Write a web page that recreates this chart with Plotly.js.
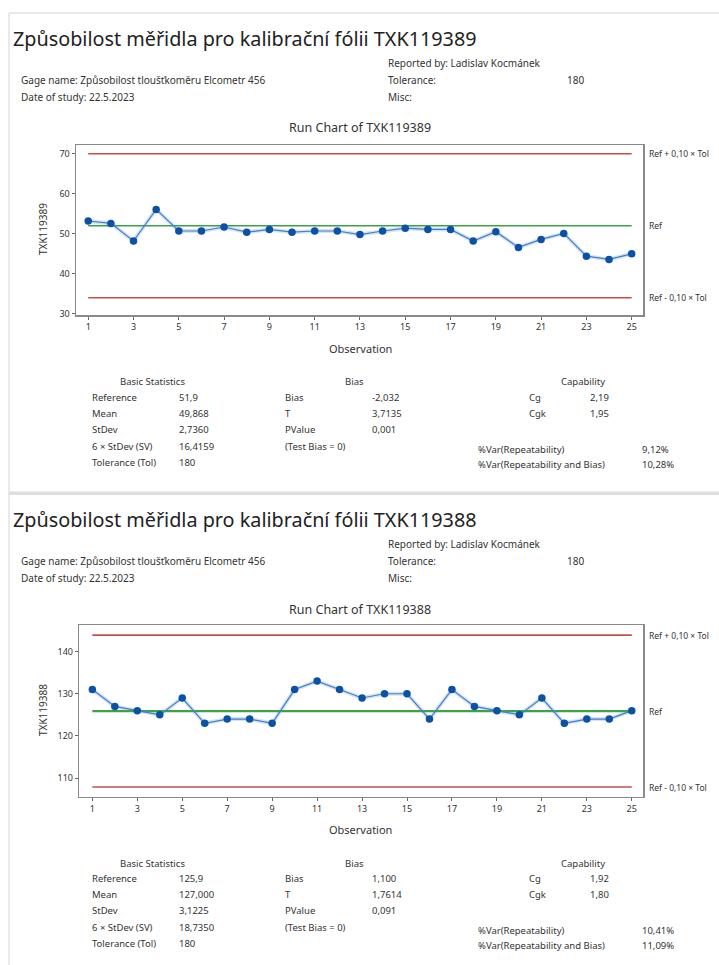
<!DOCTYPE html>
<html>
<head>
<meta charset="utf-8">
<script src="https://cdn.plot.ly/plotly-3.0.1.min.js"></script>
<style>
html,body{margin:0;padding:0;background:#fff;}
#chart{width:719px;height:965px;}
</style>
</head>
<body>
<div id="chart"></div>
<script>
// ---- data ----
const observations = [1,2,3,4,5,6,7,8,9,10,11,12,13,14,15,16,17,18,19,20,21,22,23,24,25];
const valuesA = [53.1,52.5,48.1,56.0,50.6,50.6,51.6,50.3,51.0,50.3,50.6,50.6,49.7,50.6,51.3,51.0,51.0,48.1,50.4,46.5,48.5,50.0,44.3,43.5,44.9];
const valuesB = [131,127,126,125,129,123,124,124,123,131,133,131,129,130,130,124,131,127,126,125,129,123,124,124,126];
const refA = 51.9, refB = 125.9, tolerance = 180, tolFrac = 0.10;
const xTicks = [1,3,5,7,9,11,13,15,17,19,21,23,25];
const yTicksA = [30,40,50,60,70];
const yTicksB = [110,120,130,140];

const titleA = "Způsobilost měřidla pro kalibrační fólii TXK119389";
const titleB = "Způsobilost měřidla pro kalibrační fólii TXK119388";
const runTitleA = "Run Chart of TXK119389";
const runTitleB = "Run Chart of TXK119388";
const yNameA = "TXK119389", yNameB = "TXK119388";

const statsLabels = ["Reference","Mean","StDev","6 × StDev (SV)","Tolerance (Tol)"];
const statsA = ["51,9","49,868","2,7360","16,4159","180"];
const statsB = ["125,9","127,000","3,1225","18,7350","180"];
const biasLabels = ["Bias","T","PValue","(Test Bias = 0)"];
const biasA = ["-2,032","3,7135","0,001",""];
const biasB = ["1,100","1,7614","0,091",""];
const capLabels = ["Cg","Cgk"];
const capA = ["2,19","1,95"];
const capB = ["1,92","1,80"];
const varLabels = ["%Var(Repeatability)","%Var(Repeatability and Bias)"];
const varA = ["9,12%","10,28%"];
const varB = ["10,41%","11,09%"];

// ---- layout helpers ----
const W = 719, H = 965;
const X = p => p / W;
const Y = p => 1 - p / H;
const FONT = "Noto Sans, Open Sans, sans-serif";
const TXT = "#333333";

const RED = "#c0504d", GREEN = "#3da245", BLUE = "#0b52a6", LBLUE = "#3f80c8";

function traces(vals, ref, xa, ya, gw) {
  const up = ref + tolFrac * tolerance, lo = ref - tolFrac * tolerance;
  const ends = [observations[0], observations[observations.length - 1]];
  const base = {xaxis: xa, yaxis: ya, hoverinfo: "skip", showlegend: false};
  return [
    Object.assign({x: ends, y: [up, up], mode: "lines", line: {color: RED, width: 1.6}}, base),
    Object.assign({x: ends, y: [lo, lo], mode: "lines", line: {color: RED, width: 1.6}}, base),
    Object.assign({x: ends, y: [ref, ref], mode: "lines", line: {color: GREEN, width: gw}}, base),
    Object.assign({x: observations, y: vals, mode: "lines", line: {color: "rgba(90,140,210,0.25)", width: 4}}, base),
    Object.assign({x: observations, y: vals, mode: "lines+markers", line: {color: LBLUE, width: 1.2},
      marker: {color: BLUE, size: 7.5}}, base)
  ];
}

const data = [].concat(traces(valuesA, refA, "x", "y", 1.6), traces(valuesB, refB, "x2", "y2", 2.2));

function axX(domain, range, anchor) {
  return {domain: domain, range: range, anchor: anchor, tickvals: xTicks, ticks: "outside", ticklen: 3,
    tickcolor: "#666", tickwidth: 1, showline: true, mirror: true, linecolor: "#8a8a8a", linewidth: 1.5,
    showgrid: false, zeroline: false, tickfont: {family: FONT, size: 9, color: TXT}, fixedrange: true};
}
function axY(domain, range, ticks, anchor) {
  return {domain: domain, range: range, anchor: anchor, tickvals: ticks, ticks: "outside", ticklen: 3,
    tickcolor: "#666", tickwidth: 1, showline: true, mirror: true, linecolor: "#8a8a8a", linewidth: 1.5,
    showgrid: false, zeroline: false, tickfont: {family: FONT, size: 9, color: TXT}, fixedrange: true};
}

const ann = [];
function t(text, x, y, size, opts) {
  ann.push(Object.assign({text: text, x: X(x), y: Y(y), xref: "paper", yref: "paper", showarrow: false,
    xanchor: "left", yanchor: "middle", font: {family: FONT, size: size, color: TXT}}, opts || {}));
}

function panel(off, title, runTitle, yName, stats, bias, cap, vr, ya, ref) {
  t(title, 11, 38 + off, 19.8, {font: {family: FONT, size: 19.8, color: "#222"}});
  t("Gage name: Způsobilost tloušťkoměru Elcometr 456", 19, 80 + off, 10);
  t("Date of study: 22.5.2023", 19, 97 + off, 10);
  t("Reported by: Ladislav Kocmánek", 386, 63 + off, 10);
  t("Tolerance:", 386, 80 + off, 10);
  t(String(tolerance), 565, 80 + off, 10);
  t("Misc:", 386, 97 + off, 10);
  t(runTitle, 360, 128 + off, 12.5, {xanchor: "center"});
  t(yName, 43, 229 + off, 10, {xanchor: "center", textangle: -90});
  t("Observation", 360, 348 + off, 11, {xanchor: "center"});
  const up = ref + tolFrac * tolerance, lo = ref - tolFrac * tolerance;
  [["Ref + 0,10 × Tol", up], ["Ref", ref], ["Ref - 0,10 × Tol", lo]].forEach(function (p) {
    ann.push({text: p[0], x: X(647), y: p[1], xref: "paper", yref: ya, showarrow: false,
      xanchor: "left", yanchor: "middle", font: {family: FONT, size: 8.5, color: TXT}});
  });
  const rows = [397, 413, 429, 446, 462];
  t("Basic Statistics", 152, 382 + off, 9.5, {xanchor: "center"});
  statsLabels.forEach((l, i) => { t(l, 90, rows[i] + off, 9.5); t(stats[i], 177, rows[i] + off, 9.5); });
  t("Bias", 354, 382 + off, 9.5, {xanchor: "center"});
  biasLabels.forEach((l, i) => { t(l, 283, rows[i] + off, 9.5); if (bias[i]) t(bias[i], 370, rows[i] + off, 9.5); });
  t("Capability", 583, 382 + off, 9.5, {xanchor: "center"});
  capLabels.forEach((l, i) => { t(l, 527, rows[i] + off, 9.5); t(cap[i], 588, rows[i] + off, 9.5); });
  const vrows = [449, 464];
  varLabels.forEach((l, i) => { t(l, 476, vrows[i] + off, 9.5); t(vr[i], 640, vrows[i] + off, 9.5); });
}

panel(0, titleA, runTitleA, yNameA, statsA, biasA, capA, varA, "y", refA);
panel(481, titleB, runTitleB, yNameB, statsB, biasB, capB, varB, "y2", refB);

const shapes = [
  {type: "line", xref: "paper", yref: "paper", x0: X(9), x1: 1, y0: Y(13), y1: Y(13), line: {color: "#e2e2e2", width: 1.5}},
  {type: "line", xref: "paper", yref: "paper", x0: X(9), x1: X(9), y0: Y(13), y1: 0, line: {color: "#e2e2e2", width: 1.5}},
  {type: "rect", xref: "paper", yref: "paper", x0: X(9), x1: 1, y0: Y(495), y1: Y(491.5), fillcolor: "#dedede", line: {width: 0}}
];

const layout = {
  width: W, height: H, margin: {l: 0, r: 0, t: 0, b: 0}, paper_bgcolor: "#fff", plot_bgcolor: "#fff",
  showlegend: false, font: {family: FONT, color: TXT},
  xaxis: axX([X(76), X(643)], [0.46, 25.5], "y"),
  yaxis: axY([Y(315), Y(145)], [29.6, 72.1], yTicksA, "x"),
  xaxis2: axX([X(79.3), X(643)], [0.42, 25.5], "y2"),
  yaxis2: axY([Y(796.7), Y(625)], [105.6, 146.3], yTicksB, "x2"),
  annotations: ann, shapes: shapes
};

Plotly.newPlot("chart", data, layout, {displayModeBar: false, staticPlot: true});
</script>
</body>
</html>
